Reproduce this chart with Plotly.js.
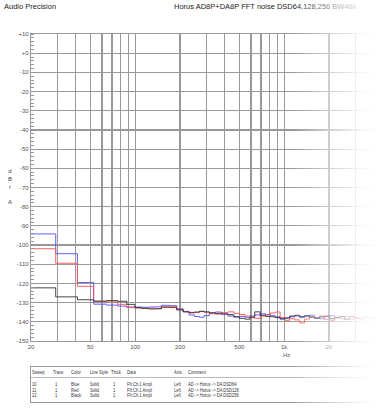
<!DOCTYPE html>
<html>
<head>
<meta charset="utf-8">
<script src="https://cdn.plot.ly/plotly-3.0.1.min.js"></script>
<style>
  html, body { margin:0; padding:0; width:380px; height:414px; overflow:hidden; background:#fff; }
  #wrap { position:relative; width:380px; height:414px; overflow:hidden; }
  #chart { position:absolute; left:0; top:0; width:520px; height:414px; }
  #legend { position:absolute; left:30px; top:366px; width:420px; height:35px; border:1px solid #9a9a9a; font-family:"Liberation Sans", Arial, sans-serif; font-size:5px; color:#333; }
  #legend div { position:absolute; white-space:nowrap; transform:scaleX(0.82); transform-origin:left top; }
  #fade { position:absolute; left:292px; top:0; width:88px; height:414px;
          background:linear-gradient(to right, rgba(255,255,255,0) 0%, rgba(255,255,255,0.55) 45%, rgba(255,255,255,0.92) 80%, #fff 100%); pointer-events:none; }
</style>
</head>
<body>
<div id="wrap">
  <div id="chart"></div>
  <div id="legend"></div>
  <div id="fade"></div>
</div>
<script>
// ---- data ----
const freq = [20, 29.3, 41.0, 52.7, 64.5, 76.2, 87.9, 99.6, 111, 123, 135, 150, 170, 190, 210, 230, 250, 270, 290, 315, 345, 380, 420, 460, 500, 545, 590, 635, 690, 750, 810, 870, 940, 1010, 1090, 1180, 1270, 1370, 1480, 1600, 1730, 1870, 2020, 2180, 2350, 2540, 2740, 2960, 3200, 3450, 3730, 4030, 4350, 4700, 5100];

const blueDSD64 = [-94.2, -104.5, -119.5, -130.8, -131.3, -131.8, -132.3, -132.3, -132.4, -132.3, -132.2, -131.4, -131.6, -133.2, -134.6, -136.4, -137.2, -137.6, -136.8, -135.4, -134.9, -135.8, -137.0, -137.5, -137.2, -137.6, -137.0, -136.4, -135.8, -136.2, -136.8, -137.4, -138.6, -138.0, -137.4, -136.9, -137.8, -137.2, -136.6, -137.8, -138.4, -137.2, -136.8, -138.0, -137.4, -138.6, -137.2, -137.9, -138.5, -137.3, -138.1, -137.6, -138.4, -137.8, -138.2];

const redDSD128 = [-101.9, -109.5, -121.5, -129.4, -129.2, -130.9, -132.6, -132.8, -133.0, -132.9, -133.1, -132.2, -131.9, -133.6, -134.8, -135.4, -135.2, -134.6, -135.0, -135.8, -136.0, -135.2, -134.8, -135.6, -136.2, -137.0, -137.8, -138.2, -137.0, -136.4, -135.4, -134.9, -137.8, -139.2, -138.4, -139.0, -140.6, -138.6, -137.4, -138.2, -137.0, -138.8, -139.2, -137.6, -138.4, -137.2, -138.8, -138.0, -137.4, -138.6, -138.0, -137.2, -138.4, -137.8, -138.6];

const blackDSD256 = [-122.3, -127.0, -128.5, -129.2, -129.0, -129.3, -130.9, -132.6, -133.0, -133.3, -133.2, -132.4, -132.6, -133.8, -134.8, -135.1, -134.9, -134.5, -134.8, -135.3, -135.6, -136.0, -136.3, -137.4, -138.2, -138.6, -137.6, -134.8, -136.6, -137.2, -137.4, -137.8, -138.4, -138.0, -137.0, -136.6, -137.2, -136.8, -137.6, -138.2, -137.4, -137.0, -138.4, -137.8, -137.2, -138.6, -137.4, -138.0, -138.4, -137.6, -138.2, -137.8, -138.6, -137.4, -138.0];

const xGrid = [20,30,40,50,60,70,80,90,100,200,300,400,500,600,700,800,900,1000,2000,3000,4000,5000,6000,7000,8000,9000,10000,20000];
const xLabels = ['20','','','50','','','','','100','200','','','500','','','','','1k','2k','','','','','','','','',''];
const yVals = [10,0,-10,-20,-30,-40,-50,-60,-70,-80,-90,-100,-110,-120,-130,-140,-150];
const yLabels = ['+10','+0','-10','-20','-30','-40','-50','-60','-70','-80','-90','-100','-110','-120','-130','-140','-150'];

const sweeps = ['10','11','12'];
const traceNums = ['1','1','1'];
const colorNames = ['Blue','Red','Black'];
const lineStyles = ['Solid','Solid','Solid'];
const thicks = ['1','1','1'];
const dataNames = ['Fft.Ch.1 Ampl','Fft.Ch.1 Ampl','Fft.Ch.1 Ampl'];
const axes = ['Left','Left','Left'];
const comments = ['AD -> Horus -> DA DSD64','AD -> Horus -> DA DSD128','AD -> Horus -> DA DSD256'];

const series = [blueDSD64, redDSD128, blackDSD256];
const lineColors = ['rgb(80,80,255)','rgb(255,80,80)','rgb(50,50,50)'];

// ---- geometry ----
const W = 520, H = 414;
const mL = 31, mT = 34, mB = 73, mR = 42;
const pw = W - mL - mR;
const ph = H - mT - mB;
const px2x = p => (p - mL) / pw;
const py2y = p => 1 - (p - mT) / ph;

const font = "Liberation Sans, Arial, sans-serif";
const gridC = '#999999';

const traces = series.map((s, i) => ({
  x: freq, y: s, type: 'scatter', mode: 'lines',
  line: {color: lineColors[i], width: 0.9, shape: 'hv'},
  name: comments[i], showlegend: false, hoverinfo: 'skip'
}));

const layout = {
  width: W, height: H,
  margin: {l: mL, r: mR, t: mT, b: mB, pad: 0},
  paper_bgcolor: '#fff', plot_bgcolor: '#fff',
  showlegend: false,
  font: {family: font, size: 6, color: '#444'},
  xaxis: {
    type: 'log', range: [Math.log10(20), Math.log10(20000)],
    tickmode: 'array', tickvals: xGrid, ticktext: xLabels,
    showgrid: true, gridcolor: gridC, gridwidth: 1.2,
    showline: true, linecolor: gridC, linewidth: 1.2, mirror: true,
    ticks: '', tickfont: {family: font, size: 6, color: '#555'},
    zeroline: false, fixedrange: true
  },
  yaxis: {
    range: [-150, 10],
    tickmode: 'array', tickvals: yVals, ticktext: yLabels,
    showgrid: true, gridcolor: gridC, gridwidth: 1.2,
    showline: true, linecolor: gridC, linewidth: 1.2, mirror: true,
    ticks: '', tickfont: {family: font, size: 6, color: '#555'},
    minor: {dtick: 2, ticks: 'inside', ticklen: 3, tickcolor: '#999', tickwidth: 1, showgrid: false},
    zeroline: false, fixedrange: true
  },
  annotations: [
    {text: 'Audio Precision', xref: 'paper', yref: 'paper', x: px2x(2), y: py2y(7), xanchor: 'left', yanchor: 'middle', showarrow: false, font: {family: font, size: 7.5, color: '#222'}},
    {text: 'Horus AD8P+DA8P FFT noise DSD64,128,256 BW48k', xref: 'paper', yref: 'paper', x: px2x(172), y: py2y(7), xanchor: 'left', yanchor: 'middle', showarrow: false, font: {family: font, size: 7.5, color: '#222'}},
    {text: 'Hz', xref: 'paper', yref: 'paper', x: px2x(286), y: py2y(355), xanchor: 'center', yanchor: 'middle', showarrow: false, font: {family: font, size: 6, color: '#555'}},
    {text: 'd<br>B<br>r<br> <br>A', xref: 'paper', yref: 'paper', x: px2x(10), y: py2y(186), xanchor: 'center', yanchor: 'middle', showarrow: false, font: {family: font, size: 6, color: '#444'}}
  ]
};

Plotly.newPlot('chart', traces, layout, {staticPlot: true, displayModeBar: false});

// ---- legend table ----
const leg = document.getElementById('legend');
const cols = [
  ['Sweep', sweeps, 1],
  ['Trace', traceNums, 22],
  ['Color', colorNames, 40],
  ['Line Style', lineStyles, 59],
  ['Thick', thicks, 80],
  ['Data', dataNames, 96],
  ['Axis', axes, 143],
  ['Comment', comments, 157]
];
const rowTops = [14, 19.5, 25];
function addText(t, x, y) {
  const d = document.createElement('div');
  d.textContent = t; d.style.left = x + 'px'; d.style.top = y + 'px';
  leg.appendChild(d);
}
cols.forEach(([head, vals, x]) => {
  addText(head, x, 2);
  vals.forEach((v, i) => addText(v, x + (head === 'Trace' || head === 'Thick' ? 2 : 0), rowTops[i]));
});
const sep = document.createElement('div');
sep.style.left = '0px'; sep.style.top = '10px'; sep.style.width = '420px'; sep.style.height = '0px';
sep.style.borderTop = '1px solid #bbb'; sep.style.transform = 'none';
leg.appendChild(sep);
</script>
</body>
</html>
